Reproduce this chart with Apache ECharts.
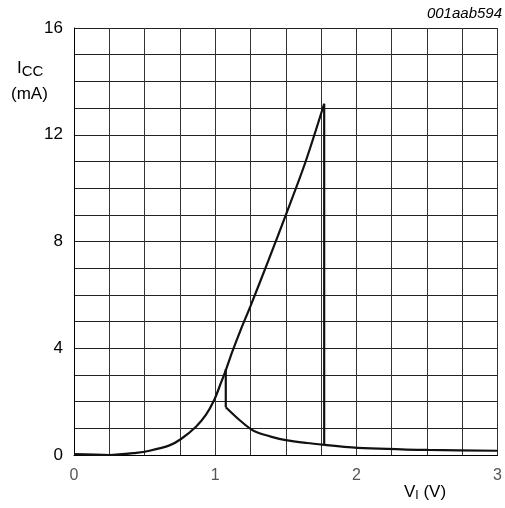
<!DOCTYPE html>
<html><head><meta charset="utf-8">
<script src="https://cdn.jsdelivr.net/npm/echarts@6/dist/echarts.min.js"></script>
<style>html,body{margin:0;padding:0;background:#fff}#c{width:505px;height:508px}</style>
</head><body><div id="c"></div>
<script>
// V_I (V) and I_CC (mA)
const risingV = [0, 0.25, 0.44, 0.535, 0.676, 0.758, 0.864, 0.934, 0.993, 1.04, 1.08, 1.122, 1.18, 1.25, 1.38, 1.498, 1.639, 1.772];
const risingI = [0.03, 0.0, 0.08, 0.16, 0.36, 0.6, 1.06, 1.5, 2.06, 2.69, 3.25, 3.88, 4.68, 5.58, 7.33, 8.96, 10.97, 13.16];
const jumpV = [1.772, 1.772];
const jumpI = [13.16, 0.38];
const tailV = [1.772, 2.01, 2.51, 3.0];
const tailI = [0.38, 0.27, 0.19, 0.16];
const stepV = [1.075, 1.075];
const stepI = [3.22, 1.79];
const decayV = [1.075, 1.17, 1.25, 1.3, 1.4, 1.5, 1.65, 1.772];
const decayI = [1.79, 1.32, 0.98, 0.84, 0.68, 0.56, 0.45, 0.38];
const xTickLabels = ['0', '1', '2', '3'];
const yTickLabels = ['0', '4', '8', '12', '16'];

const zip = (a, b) => a.map((v, i) => [v, b[i]]);
const line = (v, i, smooth) => ({type: 'line', data: zip(v, i), showSymbol: false, smooth: smooth,
  lineStyle: {color: '#111', width: 2.2}});
const chart = echarts.init(document.getElementById('c'));
chart.setOption({
  animation: false,
  grid: {left: 74, right: 4, top: 28, bottom: 53},
  xAxis: {
    type: 'value', min: 0, max: 3, interval: 0.25,
    axisLine: {show: true, lineStyle: {color: '#000', width: 1}},
    axisTick: {show: false},
    splitLine: {show: true, lineStyle: {color: '#333', width: 1}},
    axisLabel: {
      color: '#555', fontSize: 16, fontFamily: 'Liberation Sans, Arial', margin: 13,
      formatter: v => Math.abs(v - Math.round(v)) < 1e-6 ? xTickLabels[Math.round(v)] : ''
    }
  },
  yAxis: {
    type: 'value', min: 0, max: 16, interval: 1,
    axisLine: {show: true, lineStyle: {color: '#000', width: 1}},
    axisTick: {show: false},
    splitLine: {show: true, lineStyle: {color: '#222', width: 1}},
    axisLabel: {
      color: '#000', fontSize: 17, fontFamily: 'Liberation Sans, Arial', margin: 11,
      formatter: v => (Math.round(v) % 4 === 0) ? yTickLabels[Math.round(v) / 4] : ''
    }
  },
  series: [
    line(risingV, risingI, 0.3),
    line(jumpV, jumpI, false),
    line(tailV, tailI, 0.3),
    line(stepV, stepI, false),
    line(decayV, decayI, 0.3)
  ],
  graphic: [
    {type: 'text', right: 3, top: 6, style: {text: '001aab594', font: 'italic 15px Liberation Sans, Arial', fill: '#000'}},
    {type: 'text', left: 17, top: 60, style: {text: '{a|I}{b|CC}', rich: {
      a: {font: '17px Liberation Sans, Arial', fill: '#000'},
      b: {font: '15px Liberation Sans, Arial', fill: '#000', verticalAlign: 'bottom', padding: [7, 0, 0, 0]}
    }}},
    {type: 'text', left: 11, top: 86, style: {text: '(mA)', font: '17px Liberation Sans, Arial', fill: '#000'}},
    {type: 'text', left: 404, top: 484, style: {text: '{a|V}{b|I}{a| (V)}', rich: {
      a: {font: '17px Liberation Sans, Arial', fill: '#000'},
      b: {font: '12px Liberation Sans, Arial', fill: '#000', verticalAlign: 'bottom', padding: [7, 0, 0, 0]}
    }}}
  ]
});
</script></body></html>
